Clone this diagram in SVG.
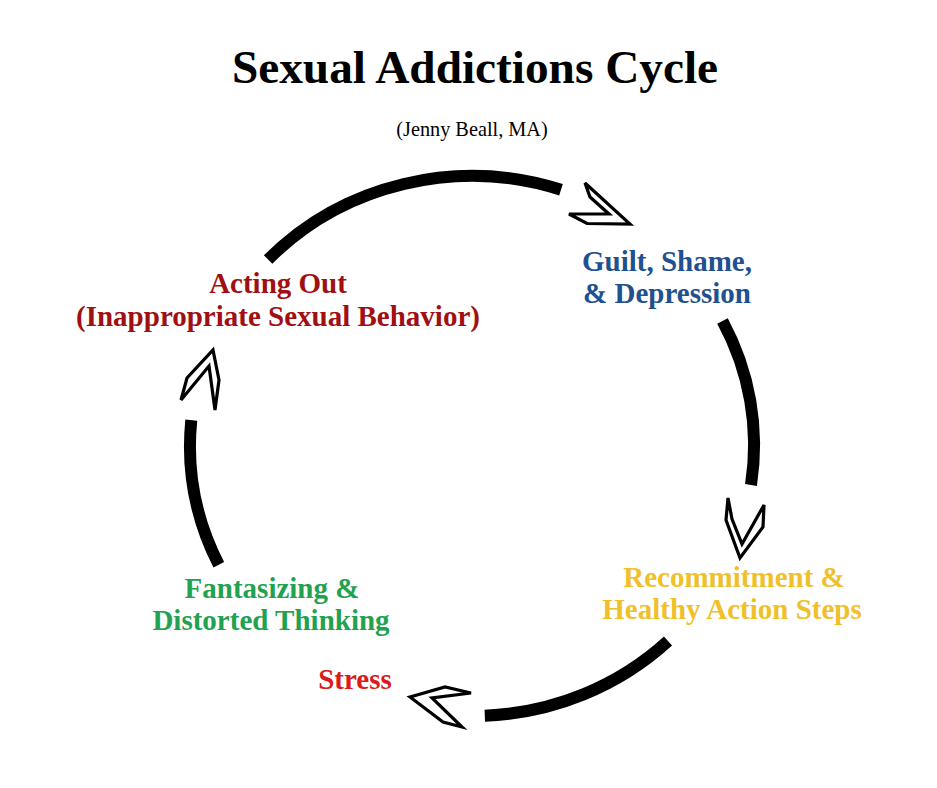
<svg xmlns="http://www.w3.org/2000/svg" width="937" height="788" viewBox="0 0 937 788">
  <style>
    .t { font-family: "Liberation Serif", "Times New Roman", serif; font-weight: bold; text-anchor: middle; }
    .lbl { font-size: 29px; }
    .arc { fill: none; stroke: #000; stroke-width: 12; stroke-linecap: butt; }
    .head { fill: #fff; stroke: #000; stroke-width: 3.2; stroke-linejoin: miter; }
  </style>
  <rect width="937" height="788" fill="#fff"/>
  <g id="title">
    <text class="t" x="475" y="83" font-size="47.3">Sexual Addictions Cycle</text>
    <text x="472" y="136" font-family="Liberation Serif, Times New Roman, serif" font-size="20.3" text-anchor="middle" fill="#000">(Jenny Beall, MA)</text>
  </g>
  <g id="connectors">
    <path class="arc" d="M268.1 259.5 A282 270 0 0 1 561 189.8"/>
    <polygon class="head" points="585,183 630,224 587,223.5 569,214 609,214 590,197"/>
    <path class="arc" d="M722.5 321 A282 270 0 0 1 751 485"/>
    <polygon class="head" points="728,498 726,520 740,558 763,527 764,505 742,544 732,519"/>
    <path class="arc" d="M668 641 A282 270 0 0 1 484.8 715.7"/>
    <polygon class="head" points="410,697 445,687 471,693 432,698 462,727 443,722"/>
    <path class="arc" d="M218.8 564.8 A282 270 0 0 1 191.3 420.1"/>
    <polygon class="head" points="213,350 219,380 215,410 209,366 181,400 187,378"/>
  </g>
  <g id="acting-out">
    <text class="t lbl" x="278" y="293" fill="#a00f12">Acting Out</text>
    <text class="t lbl" x="278" y="326" fill="#a00f12">(Inappropriate Sexual Behavior)</text>
  </g>
  <g id="guilt">
    <text class="t lbl" x="667" y="271" fill="#1f5190">Guilt, Shame,</text>
    <text class="t lbl" x="667" y="303" fill="#1f5190">&amp; Depression</text>
  </g>
  <g id="recommitment">
    <text class="t lbl" x="734" y="587" fill="#f0c02a">Recommitment &amp;</text>
    <text class="t lbl" x="732" y="619" fill="#f0c02a">Healthy Action Steps</text>
  </g>
  <g id="stress">
    <text class="t lbl" x="355" y="689" fill="#dc1a1a">Stress</text>
  </g>
  <g id="fantasizing">
    <text class="t lbl" x="272" y="598" fill="#22a250">Fantasizing &amp;</text>
    <text class="t lbl" x="271" y="630" fill="#22a250">Distorted Thinking</text>
  </g>
</svg>
